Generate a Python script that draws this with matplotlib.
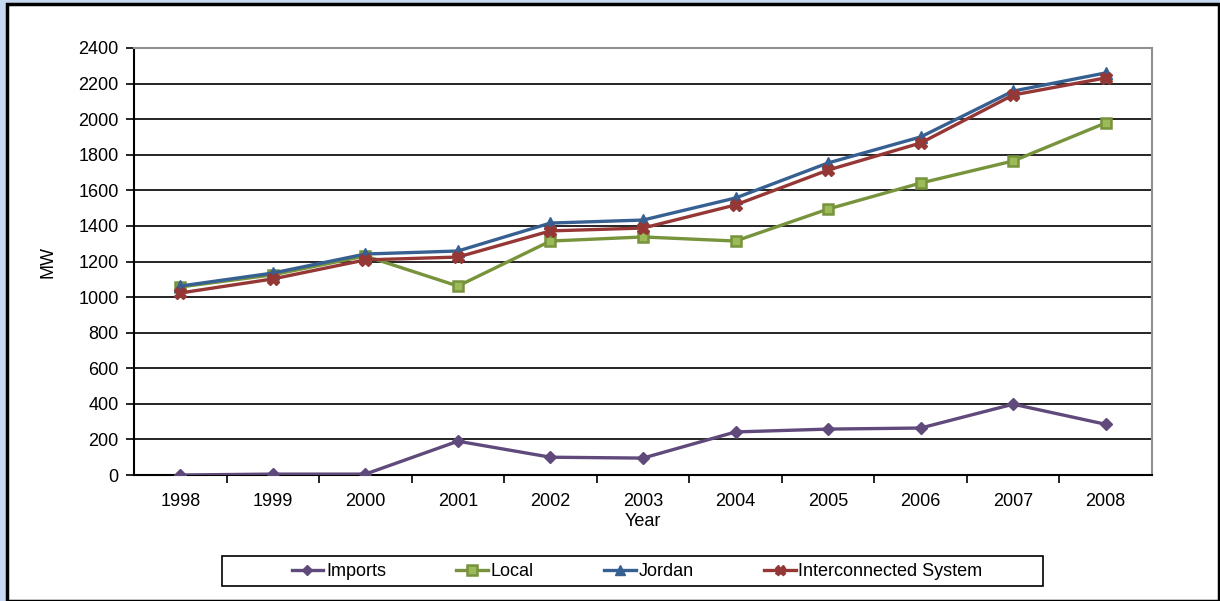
import matplotlib
matplotlib.use("Agg")
import matplotlib.pyplot as plt
from matplotlib.patches import Rectangle

plt.rcParams['font.family'] = ['Liberation Sans', 'DejaVu Sans']

years = ['1998', '1999', '2000', '2001', '2002', '2003', '2004', '2005', '2006', '2007', '2008']
imports = [0, 5, 5, 190, 100, 95, 242, 258, 264, 398, 285]
local = [1057, 1125, 1231, 1062, 1315, 1338, 1315, 1495, 1641, 1765, 1979]
jordan = [1062, 1135, 1242, 1259, 1416, 1433, 1557, 1754, 1900, 2158, 2260]
interconnected = [1023, 1102, 1209, 1225, 1372, 1388, 1518, 1714, 1866, 2136, 2232]
y_ticks = list(range(0, 2401, 200))

W, H = 1220, 601
FS = 13
fig = plt.figure(figsize=(W / 100, H / 100), dpi=100)
fig.patch.set_facecolor('#c6d9f1')

# white chart panel with black frame, behind everything
bg = fig.add_axes([0, 0, 1, 1], zorder=-10)
bg.set_xlim(0, W)
bg.set_ylim(H, 0)
bg.axis('off')
bg.add_patch(Rectangle((7, 4), 1219 - 7, 601 - 4, facecolor='white',
                       edgecolor='black', linewidth=2.5))
# legend frame
bg.add_patch(Rectangle((222, 556), 1043 - 222, 586 - 556, facecolor='white',
                       edgecolor='black', linewidth=1.2))

ax = fig.add_axes([134 / W, 1 - 475 / H, (1152 - 134) / W, (475 - 48) / H])
ax.set_facecolor('white')
x = list(range(len(years)))

ax.plot(x, imports, color='#604a7b', lw=2.4, marker='D', ms=6, label='Imports', zorder=3)
ax.plot(x, local, color='#77933c', lw=2.4, marker='s', ms=7.5, mfc='#9bbb59',
        mec='#77933c', mew=1.8, label='Local', zorder=3)
ax.plot(x, jordan, color='#376092', lw=2.4, marker='^', ms=8, label='Jordan', zorder=4)
ax.plot(x, interconnected, color='#953735', lw=2.4, marker='X', ms=8,
        label='Interconnected System', zorder=5)

ax.set_xlim(-0.5, len(years) - 0.5)
ax.set_ylim(0, 2400)
ax.set_yticks(y_ticks)
ax.set_yticklabels([str(v) for v in y_ticks], fontsize=FS)
ax.yaxis.grid(True, color='black', lw=1.2)
ax.set_axisbelow(True)

ax.set_xticks(x)
ax.set_xticklabels(years, fontsize=FS)
ax.tick_params(axis='x', which='major', length=0, pad=13)
ax.set_xticks([i + 0.5 for i in range(len(years) - 1)], minor=True)
ax.tick_params(axis='x', which='minor', length=6, width=1.2, direction='out', color='black')
ax.tick_params(axis='y', length=6, width=1.2, direction='out', pad=5)

for side in ('left', 'bottom'):
    ax.spines[side].set_color('black')
    ax.spines[side].set_linewidth(1.5)
for side in ('top', 'right'):
    ax.spines[side].set_color('#909090')
    ax.spines[side].set_linewidth(1.5)

ax.set_xlabel('Year', fontsize=FS, labelpad=2)
ax.set_ylabel('MW', fontsize=FS, labelpad=16)

leg = fig.legend(loc='center', bbox_to_anchor=(637 / W, 1 - 572 / H), ncol=4,
                 fontsize=FS, frameon=False,
                 handlelength=1.75, handletextpad=0.15, columnspacing=3.9,
                 borderpad=0.3, markerscale=0.9)

fig.savefig('out.png', dpi=100, facecolor=fig.get_facecolor())
